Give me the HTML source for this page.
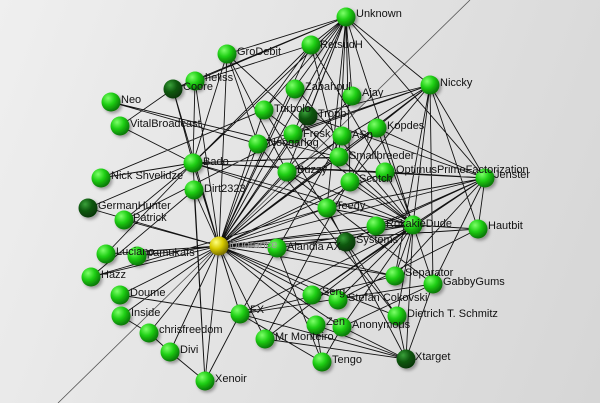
<!DOCTYPE html>
<html><head><meta charset="utf-8"><style>
html,body{margin:0;padding:0;overflow:hidden}
body{width:600px;height:403px;overflow:hidden;background:linear-gradient(110deg,#efefef 0%,#e2e2e2 50%,#d6d6d6 100%)}
svg{display:block}
svg text{font-family:"Liberation Sans",sans-serif;font-size:11px;fill:#111}
</style></head><body>
<svg width="600" height="403" viewBox="0 0 600 403">
<defs>
<radialGradient id="g" cx="35%" cy="30%" r="70%"><stop offset="0" stop-color="#7dff6a"/><stop offset="0.5" stop-color="#1fcf14"/><stop offset="1" stop-color="#0a7a06"/></radialGradient>
<radialGradient id="d" cx="35%" cy="30%" r="70%"><stop offset="0" stop-color="#3aa03a"/><stop offset="0.5" stop-color="#0f5a10"/><stop offset="1" stop-color="#063806"/></radialGradient>
<radialGradient id="y" cx="35%" cy="30%" r="70%"><stop offset="0" stop-color="#ffff80"/><stop offset="0.5" stop-color="#d8cc00"/><stop offset="1" stop-color="#7a7000"/></radialGradient>
<filter id="s" x="-50%" y="-50%" width="200%" height="200%"><feDropShadow dx="2" dy="2" stdDeviation="1.5" flood-color="#000" flood-opacity="0.35"/></filter>
</defs>
<line x1="470" y1="0" x2="58" y2="403" stroke="#555" stroke-width="0.8"/>
<path fill="none" stroke="#111" stroke-width="0.9" d="
M219 246L193 163M219 246L194 190M219 246L124 220M219 246L88 208M219 246L106 254M219 246L137 256M219 246L91 277M219 246L120 295M219 246L121 316M219 246L149 333M219 246L170 352M219 246L205 381M219 246L240 314M219 246L265 339M219 246L277 248M219 246L327 208M219 246L376 226M219 246L413 225M219 246L346 242M219 246L339 157M219 246L287 172M219 246L258 144M219 246L264 110M219 246L295 87M219 246L308 116M219 246L293 134M219 246L342 136M219 246L346 17M219 246L311 45M219 246L227 54M219 246L173 89M219 246L195 81M219 246L430 85M219 246L385 172M219 246L350 182M219 246L395 276M219 246L338 300M219 246L312 295M219 246L397 316M219 246L342 327M219 246L316 325M219 246L485 178M219 246L478 229M219 246L377 128M219 246L352 96
M193 163L120 126M193 163L101 178M193 163L173 89M193 163L195 81M193 163L227 54M193 163L346 17M193 163L311 45M193 163L413 225M193 163L339 157M193 163L385 172M193 163L485 178M193 163L327 208M193 163L240 314M193 163L124 220M193 163L106 254M193 163L88 208
M346 17L311 45M346 17L227 54M346 17L430 85M346 17L264 110M346 17L293 134M346 17L352 96M346 17L339 157M346 17L350 182M346 17L485 178M346 17L413 225M346 17L295 87M346 17L308 116M346 17L327 208M346 17L287 172M346 17L173 89M346 17L195 81
M430 85L308 116M430 85L293 134M430 85L339 157M430 85L413 225M430 85L478 229M430 85L485 178M430 85L395 276M430 85L433 284M430 85L327 208M430 85L258 144M430 85L287 172
M413 225L478 229M413 225L485 178M413 225L433 284M413 225L395 276M413 225L406 359M413 225L397 316M413 225L342 327M413 225L338 300M413 225L312 295M413 225L240 314M413 225L277 248M413 225L327 208M413 225L376 226M413 225L385 172M413 225L350 182M413 225L339 157M413 225L264 110M413 225L227 54M413 225L295 87M413 225L377 128M413 225L287 172M413 225L265 339
M485 178L385 172M485 178L478 229M485 178L395 276M485 178L327 208M485 178L376 226M485 178L346 242M485 178L377 128M485 178L308 116M485 178L433 284
M406 359L397 316M406 359L433 284M406 359L342 327M406 359L316 325M406 359L327 208M406 359L240 314M406 359L265 339
M322 362L342 327M322 362L316 325M322 362L240 314M322 362L277 248
M111 102L339 157M111 102L258 144M173 89L120 126M173 89L311 45M195 81L346 17M88 208L193 163M124 220L293 134M101 178L264 110
M121 316L149 333M149 333L170 352M170 352L205 381M205 381L240 314M205 381L193 163M205 381L194 190M120 295L240 314M91 277L194 190M91 277L327 208M106 254L193 163
M227 54L258 144M227 54L339 157M227 54L287 172M311 45L264 110M311 45L339 157M311 45L385 172M264 110L346 242M258 144L397 316M287 172L433 284M277 248L395 276M240 314L395 276M240 314L342 136M265 339L377 128M338 300L478 229M312 295L485 178M397 316L346 242M342 327L433 284M240 314L433 284
"/>
<g filter="url(#s)">
<circle cx="346" cy="17" r="9.5" fill="url(#g)"/><circle cx="311" cy="45" r="9.5" fill="url(#g)"/><circle cx="227" cy="54" r="9.5" fill="url(#g)"/><circle cx="195" cy="81" r="9.5" fill="url(#g)"/><circle cx="173" cy="89" r="9.5" fill="url(#d)"/><circle cx="111" cy="102" r="9.5" fill="url(#g)"/><circle cx="120" cy="126" r="9.5" fill="url(#g)"/><circle cx="295" cy="89" r="9.5" fill="url(#g)"/><circle cx="352" cy="96" r="9.5" fill="url(#g)"/><circle cx="264" cy="110" r="9.5" fill="url(#g)"/><circle cx="308" cy="116" r="9.5" fill="url(#d)"/><circle cx="293" cy="134" r="9.5" fill="url(#g)"/><circle cx="342" cy="136" r="9.5" fill="url(#g)"/><circle cx="377" cy="128" r="9.5" fill="url(#g)"/><circle cx="193" cy="163" r="9.5" fill="url(#g)"/><circle cx="258" cy="144" r="9.5" fill="url(#g)"/><circle cx="339" cy="157" r="9.5" fill="url(#g)"/><circle cx="287" cy="172" r="9.5" fill="url(#g)"/><circle cx="385" cy="172" r="9.5" fill="url(#g)"/><circle cx="350" cy="182" r="9.5" fill="url(#g)"/><circle cx="430" cy="85" r="9.5" fill="url(#g)"/><circle cx="485" cy="178" r="9.5" fill="url(#g)"/><circle cx="101" cy="178" r="9.5" fill="url(#g)"/><circle cx="194" cy="190" r="9.5" fill="url(#g)"/><circle cx="88" cy="208" r="9.5" fill="url(#d)"/><circle cx="124" cy="220" r="9.5" fill="url(#g)"/><circle cx="327" cy="208" r="9.5" fill="url(#g)"/><circle cx="277" cy="248" r="9.5" fill="url(#g)"/><circle cx="376" cy="226" r="9.5" fill="url(#g)"/><circle cx="413" cy="225" r="9.5" fill="url(#g)"/><circle cx="346" cy="242" r="9.5" fill="url(#d)"/><circle cx="478" cy="229" r="9.5" fill="url(#g)"/><circle cx="106" cy="254" r="9.5" fill="url(#g)"/><circle cx="137" cy="256" r="9.5" fill="url(#g)"/><circle cx="91" cy="277" r="9.5" fill="url(#g)"/><circle cx="120" cy="295" r="9.5" fill="url(#g)"/><circle cx="121" cy="316" r="9.5" fill="url(#g)"/><circle cx="149" cy="333" r="9.5" fill="url(#g)"/><circle cx="170" cy="352" r="9.5" fill="url(#g)"/><circle cx="205" cy="381" r="9.5" fill="url(#g)"/><circle cx="240" cy="314" r="9.5" fill="url(#g)"/><circle cx="265" cy="339" r="9.5" fill="url(#g)"/><circle cx="395" cy="276" r="9.5" fill="url(#g)"/><circle cx="433" cy="284" r="9.5" fill="url(#g)"/><circle cx="312" cy="295" r="9.5" fill="url(#g)"/><circle cx="338" cy="300" r="9.5" fill="url(#g)"/><circle cx="397" cy="316" r="9.5" fill="url(#g)"/><circle cx="316" cy="325" r="9.5" fill="url(#g)"/><circle cx="342" cy="327" r="9.5" fill="url(#g)"/><circle cx="322" cy="362" r="9.5" fill="url(#g)"/><circle cx="406" cy="359" r="9.5" fill="url(#d)"/><circle cx="219" cy="246" r="9.5" fill="url(#y)"/>
</g>
<g>
<text x="356" y="17">Unknown</text><text x="320" y="48">RetsudH</text><text x="237" y="55">GroDebit</text><text x="205" y="81">heliss</text><text x="183" y="90">Coore</text><text x="121" y="103">Neo</text><text x="130" y="127">VitalBroadcast</text><text x="305" y="90">Zabahoul</text><text x="362" y="96">Ajay</text><text x="274" y="112">Turbolo</text><text x="318" y="117">Tropp</text><text x="303" y="137">Fresk</text><text x="352" y="138">ASp</text><text x="387" y="129">Kopdes</text><text x="203" y="165">Bado</text><text x="268" y="146">Noogarlog</text><text x="349" y="159">Smallbreeder</text><text x="297" y="173">Buzzy</text><text x="396" y="173">OptimusPrimeFactorization</text><text x="359" y="182">Scotch</text><text x="440" y="86">Niccky</text><text x="494" y="178">Jenster</text><text x="111" y="179">Nick Shvelidze</text><text x="204" y="192">Dirt2323</text><text x="98" y="209">GermanHunter</text><text x="133" y="221">Patrick</text><text x="336" y="209">Teedy</text><text x="287" y="250">Alandia AX</text><text x="386" y="227">RokakieDude</text><text x="356" y="243">Systems</text><text x="488" y="229">Hautbit</text><text x="116" y="255">Luciano</text><text x="147" y="256">pamukafs</text><text x="101" y="278">Hazz</text><text x="130" y="296">Doume</text><text x="131" y="316">Inside</text><text x="159" y="333">chrisfreedom</text><text x="180" y="353">Divi</text><text x="215" y="382">Xenoir</text><text x="250" y="313">FX</text><text x="275" y="340">Mr Monteiro</text><text x="405" y="276">Separator</text><text x="443" y="285">GabbyGums</text><text x="322" y="295">Serg</text><text x="348" y="301">Stefan Cokovski</text><text x="407" y="317">Dietrich T. Schmitz</text><text x="326" y="325">Zen</text><text x="352" y="328">Anonymous</text><text x="332" y="363">Tengo</text><text x="415" y="360">Xtarget</text><text x="229" y="248" style="fill:#999">ignorance</text>
</g>
</svg>
</body></html>
